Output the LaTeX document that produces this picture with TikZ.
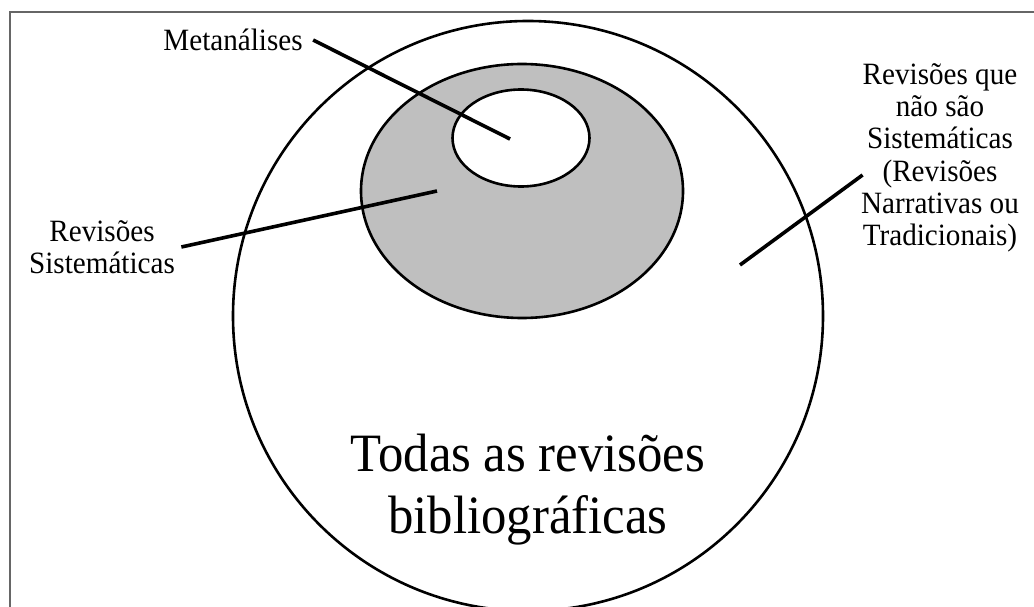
\documentclass[tikz,border=0pt]{standalone}
\usepackage{fontspec}
\setmainfont{Liberation Serif}[FakeStretch=0.94]
\usetikzlibrary{positioning,shapes.geometric}

\begin{document}
\begin{tikzpicture}[
  x = 1pt, y = -1pt,
  region/.style = {
    draw, ellipse, line width=2.6pt,
    inner sep=0pt
  },
  tag/.style = {
    align=center,
    font=\fontsize{31}{32.3}\selectfont
  },
  leader/.style = {line width=3.6pt}
]

\useasboundingbox (0,0) rectangle (1034,607);
\clip (0,0) rectangle (1034,607);
\draw[black!60, line width=1.5pt] (10,12) rectangle (1100,700);

\node[region, minimum width=590, minimum height=590] (allrev) at (528,316) {};
\node[region, fill=black!25, minimum width=322, minimum height=254] (sysrev) at (522,191) {};
\node[region, fill=white, minimum width=137, minimum height=97] (meta) at (521,138) {};

\node[tag] (metalbl) at (233,40) {Metanálises};
\node[tag] (syslbl) at (102,247) {Revisões \\ Sistemáticas};
\node[tag] (nonlbl) at (940,158) {Revisões que \\ não são \\ Sistemáticas \\ (Revisões \\ Narrativas ou \\ Tradicionais)};
\node[align=center, font=\fontsize{54}{62}\selectfont] (alllbl) at (528,490) {Todas as revisões \\ bibliográficas};

\coordinate (metapt) at (510,139);
\coordinate (syspt) at (437,191);
\coordinate (nonpt) at (740,265);

\draw[leader] ([xshift=7pt]metalbl.east) -- (metapt);
\draw[leader] ([xshift=3pt]syslbl.east) -- (syspt);
\draw[leader] ([xshift=5pt,yshift=-17pt]nonlbl.west) -- (nonpt);

\end{tikzpicture}
\end{document}
